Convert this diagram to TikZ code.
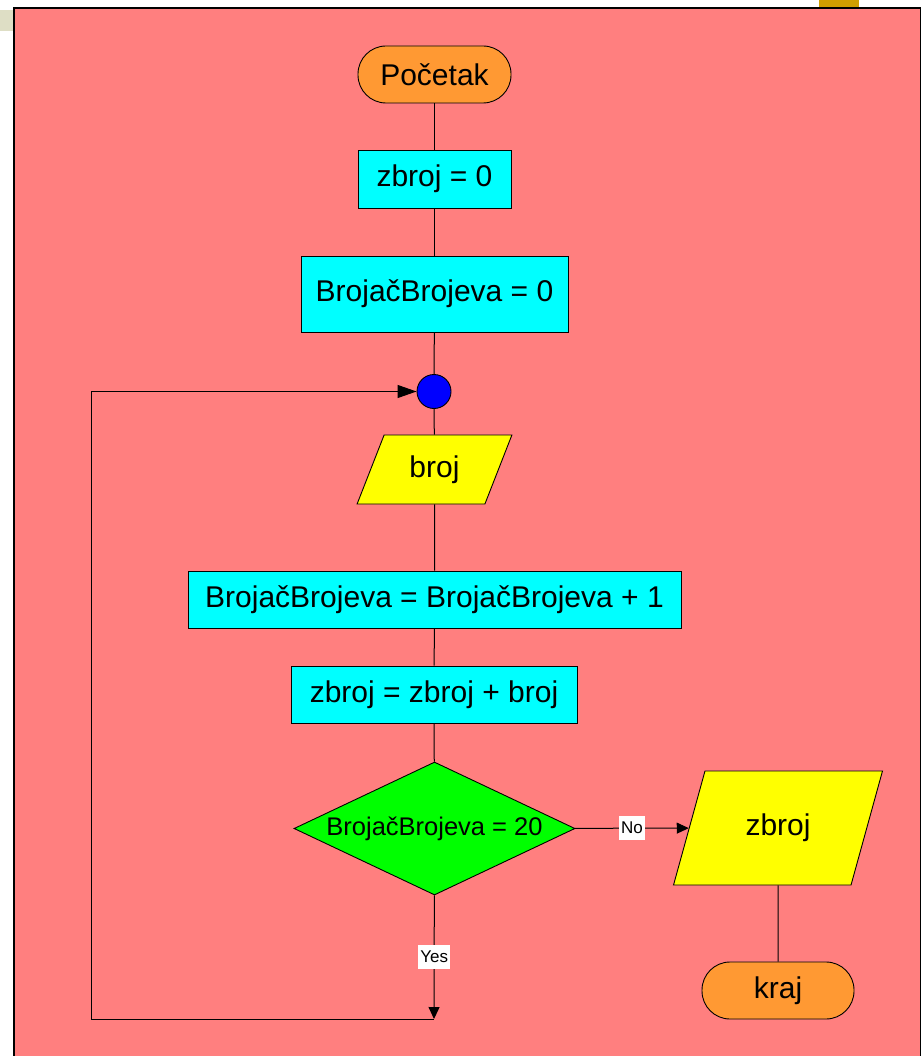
\documentclass[tikz,border=0pt]{standalone}
\usepackage{fontspec}
\setmainfont{Liberation Sans}
\usetikzlibrary{shapes.geometric,arrows.meta}

\definecolor{panelpink}{HTML}{FF7F7F}
\definecolor{termorange}{HTML}{FF9933}
\definecolor{procyan}{HTML}{00FFFF}
\definecolor{ioyellow}{HTML}{FFFF00}
\definecolor{decgreen}{HTML}{00FF00}
\definecolor{joinblue}{HTML}{0000FF}
\definecolor{tabbeige}{HTML}{DEDEC5}
\definecolor{tabgold}{HTML}{D09E00}

\tikzset{
  base/.style={draw=black, line width=0.9pt, inner sep=0pt, align=center,
    font=\fontsize{30}{36}\selectfont},
  terminal/.style={base, fill=termorange, rounded corners=28pt,
    minimum width=153pt, minimum height=57pt},
  process/.style={base, fill=procyan, rectangle},
  io/.style={base, fill=ioyellow, trapezium, trapezium stretches=true,
    trapezium left angle=#1, trapezium right angle=180-#1},
  decision/.style={base, fill=decgreen, diamond, aspect=2.1,
    font=\fontsize{25.5}{30}\selectfont},
  junction/.style={draw=black, line width=0.9pt, fill=joinblue, circle,
    inner sep=0pt, minimum size=34pt},
  flow/.style={draw=black, line width=1pt},
  bigtip/.style={-{Triangle[length=19pt,width=13pt]}},
  smalltip/.style={-{Triangle[length=12pt,width=11pt]}},
  edgelabel/.style={fill=white, inner xsep=2pt, inner ysep=0pt,
    minimum height=24pt, font=\fontsize{17}{20}\selectfont}
}

\begin{document}
\begin{tikzpicture}[x=1pt, y=-1pt]
  \useasboundingbox (0,0) rectangle (920,1056);

  % page tabs and panel
  \fill[tabbeige] (0,10) rectangle (14,31);
  \fill[tabgold] (819,0) rectangle (859,8);
  \draw[fill=panelpink, draw=black, line width=1.5pt] (14,8) rectangle (921,1057);

  % flowchart nodes
  \node[terminal] (start) at (434.5,74.5) {Početak};
  \node[process, minimum width=153pt, minimum height=58pt] (z0) at (434.5,179) {zbroj = 0};
  \node[process, minimum width=267pt, minimum height=76pt] (b0) at (434.5,294) {BrojačBrojeva = 0};
  \node[junction] (join) at (434,391.5) {};
  \node[io=64.4, minimum width=155pt, minimum height=69pt] (in) at (434.5,469.5) {broj};
  \node[process, minimum width=493pt, minimum height=57pt] (inc) at (434.5,599.5) {BrojačBrojeva = BrojačBrojeva + 1};
  \node[process, minimum width=286pt, minimum height=57pt] (sum) at (434,694.5) {zbroj = zbroj + broj};
  \node[decision, minimum width=281pt, minimum height=133pt] (test) at (434.5,828.5) {BrojačBrojeva = 20};
  \node[io=63.4, minimum width=210pt, minimum height=114pt] (out) at (778,828) {zbroj};
  \node[terminal, minimum width=152pt] (stop) at (778,990.5) {kraj};

  \coordinate (yesend) at (434,1019);
  \coordinate (loopcorner) at (91,1019);

  % connectors
  \draw[flow] (start) -- (z0);
  \draw[flow] (z0) -- (b0);
  \draw[flow] (b0) -- (join);
  \draw[flow] (join) -- (in);
  \draw[flow] (in) -- (inc);
  \draw[flow] (inc) -- (sum);
  \draw[flow] (sum) -- (test);
  \draw[flow, smalltip] (test) -- node[edgelabel] {No} (out);
  \draw[flow, smalltip] (test) -- node[edgelabel] {Yes} (yesend);
  \draw[flow, bigtip] (yesend) -- (loopcorner) |- (join);
  \draw[flow] (out) -- (stop);
\end{tikzpicture}
\end{document}
